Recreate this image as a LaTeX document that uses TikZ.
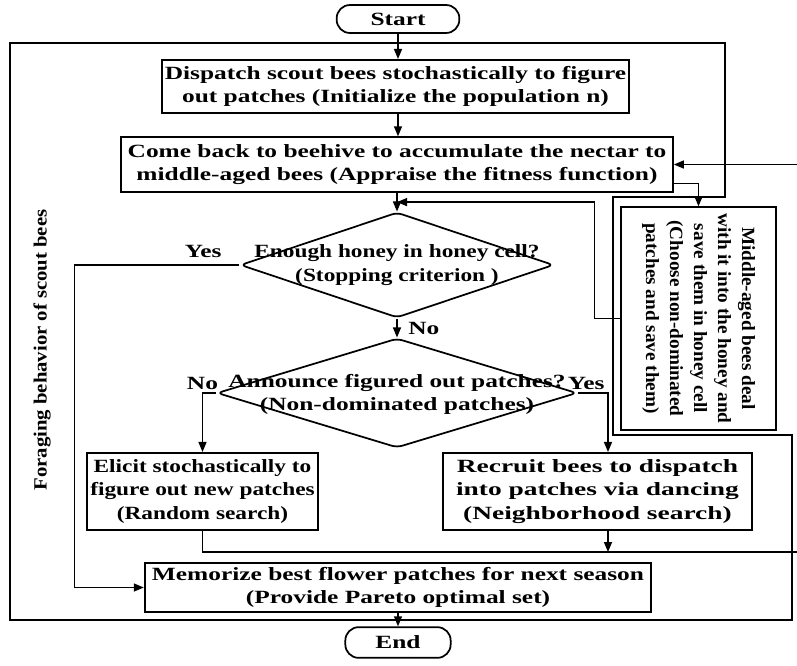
\documentclass[tikz,border=0pt]{standalone}
\usepackage{fontspec}
\setmainfont{Liberation Serif}[FakeStretch=1.36]
\newfontfamily\narrowserif{Liberation Serif}[FakeStretch=1.25]
\newfontfamily\wideserif{Liberation Serif}[FakeStretch=1.47]
\newfontfamily\sideserif{Liberation Serif}[FakeStretch=1.11]
\newfontfamily\plainserif{Liberation Serif}[FakeStretch=1.03]
\usetikzlibrary{arrows.meta, positioning, calc, shapes.geometric}

\begin{document}
\begin{tikzpicture}[x=0.75pt, y=-0.75pt,
  font=\fontsize{14pt}{17.6pt}\selectfont\bfseries,
  box/.style={draw, line width=1.3pt, align=center, inner sep=0pt, fill=white},
  term/.style={box, rounded corners=10pt},
  dec/.style={draw, diamond, line width=1.3pt, rounded corners=4pt, inner sep=0pt},
  flow/.style={draw=black, line width=1.1pt, -{Triangle[length=7.5pt, width=6pt]}},
  frame/.style={draw=black, line width=1pt},
  lbl/.style={inner sep=2pt}]
  \useasboundingbox (0,0) rectangle (797,665);
  \clip (0,0) rectangle (797,665);
  % outer frame round the scout bee loop
  \draw[frame] (10,43) -- (725,43) -- (725,197) -- (613,197) -- (613,435) -- (792,435) -- (792,620) -- (10,620) -- cycle;
  \node[rotate=90, font=\sideserif\fontsize{14pt}{17pt}\selectfont\bfseries] (side) at (42,350) {Foraging behavior of scout bees};
  \node[term, minimum width=92pt, minimum height=21pt] (start) at (398,19) {Start};
  \node[box, minimum width=350pt, minimum height=40pt] (disp) at (395.5,86.5) {Dispatch scout bees stochastically to figure\\out patches (Initialize the population n)};
  \node[box, minimum width=414pt, minimum height=41pt] (come) at (397,164.5) {Come back to beehive to accumulate the nectar to\\middle-aged bees (Appraise the fitness function)};
  \node[dec, minimum width=235pt, minimum height=79pt,
    label={[align=center, font=\narrowserif\fontsize{14pt}{17.6pt}\selectfont\bfseries]center:{Enough honey in honey cell?\\(Stopping criterion )}}] (hon) at (397,265) {};
  \node[dec, minimum width=270pt, minimum height=82pt,
    label={[align=center, yshift=-1pt]center:{Announce figured out patches?\\(Non-dominated patches)}}] (ann) at (397,393) {};
  \node[box, minimum width=173pt, minimum height=58pt, font=\narrowserif\fontsize{14pt}{17.6pt}\selectfont\bfseries] (eli) at (202.5,491.5) {Elicit stochastically to\\figure out new patches\\(Random search)};
  \node[box, minimum width=232pt, minimum height=58pt, font=\wideserif\fontsize{14pt}{17.6pt}\selectfont\bfseries] (rec) at (597.5,491.5) {Recruit bees to dispatch\\into patches via dancing\\(Neighborhood search)};
  \node[box, minimum width=380pt, minimum height=37pt] (mem) at (398,587.5) {Memorize best flower patches for next season\\(Provide Pareto optimal set)};
  \node[term, minimum width=79pt, minimum height=23pt] (end) at (398,642.5) {End};
  \node[box, minimum width=116pt, minimum height=167pt,
    label={[rotate=-90, align=center, font=\plainserif\fontsize{14pt}{18pt}\selectfont\bfseries]center:{Middle-aged bees deal\\with it into the honey and\\save them in honey cell\\(Choose non-dominated\\patches and save them)}}] (mid) at (698.5,318.5) {};
  % main flow
  \draw[flow] (start) -- (start |- disp.north);
  \draw[flow] (disp.south -| start) -- (come.north -| start);
  \draw[flow] (come) -- (hon);
  \coordinate (fb) at ($(come.south)!0.5!(hon.north)$);
  \draw[flow] (mid.west) -- ++(-26,0) |- (fb);
  \draw[flow] ($(come.south east)+(0,-9)$) -| (mid.north);
  \draw[flow] (hon.west) -- ++(-165,0) node[lbl, pos=0.22, above, yshift=3pt]{Yes} |- (mem.west);
  \draw[flow] (hon.south) -- node[lbl, right=6pt]{No} (ann.north);
  \coordinate (rx) at ($(rec.south)+(10.5,0)$);
  \draw[flow] (ann.west) -| node[lbl, pos=0.5, above]{No} (eli.north);
  \draw[flow] (ann.east) -| node[lbl, pos=0.5, above left]{Yes} ($(rec.north)+(10.5,0)$);
  % loop back to the hive, leaves the picture on the right
  \coordinate (loopE) at (820,552);
  \draw[flow] (eli.south) |- (loopE) |- (come.east);
  \draw[flow] (rx) -- (rx |- loopE);
  \draw[flow] (mem) -- (end);
\end{tikzpicture}
\end{document}
